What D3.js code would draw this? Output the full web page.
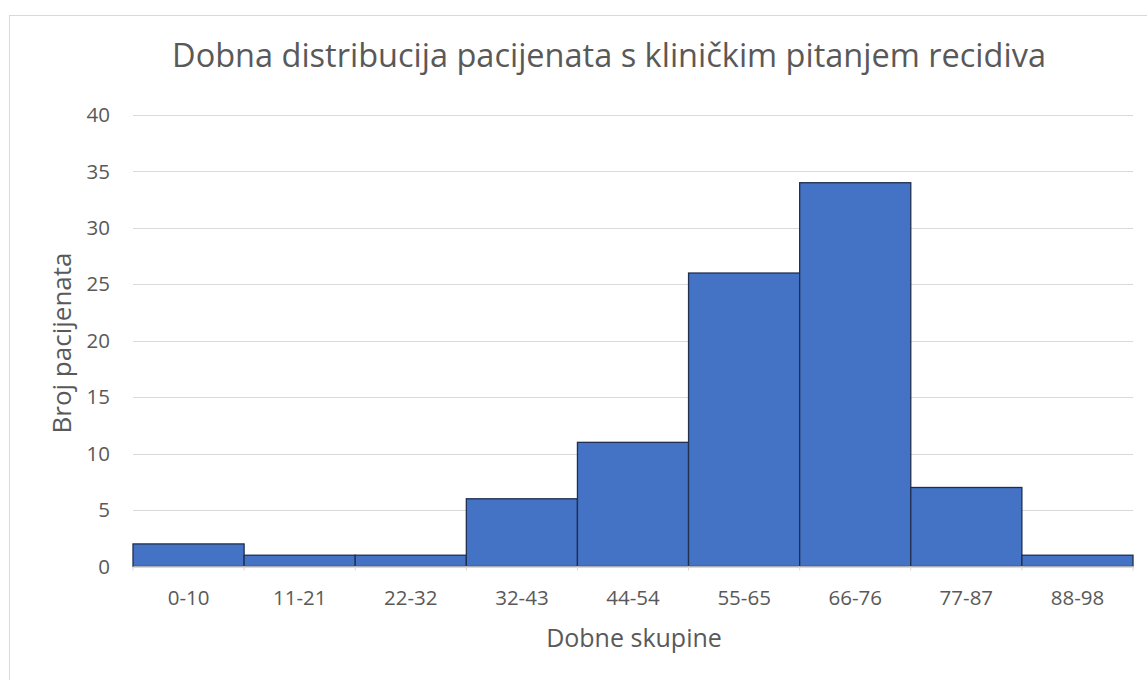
<!DOCTYPE html>
<html>
<head>
<meta charset="utf-8">
<script src="https://cdn.jsdelivr.net/npm/d3@7"></script>
<style>
  body { margin: 0; background: #fff; }
  text { font-family: "Open Sans", "Noto Sans", sans-serif; fill: #595959; }
</style>
</head>
<body>
<script>
// data
var categories = ["0-10", "11-21", "22-32", "32-43", "44-54", "55-65", "66-76", "77-87", "88-98"];
var counts = [2, 1, 1, 6, 11, 26, 34, 7, 1];
var yTicks = [0, 5, 10, 15, 20, 25, 30, 35, 40];

var svgWidth = 1147;
var svgHeight = 680;

var margin = {top: 115, right: 14, bottom: 113.5, left: 133};
var width = svgWidth - margin.left - margin.right;
var height = svgHeight - margin.top - margin.bottom;

var svg = d3.select("body")
  .append("svg")
  .attr("width", svgWidth)
  .attr("height", svgHeight);

// chart frame
svg.append("rect")
  .attr("x", 9.5)
  .attr("y", 15.5)
  .attr("width", 1150)
  .attr("height", 700)
  .attr("fill", "none")
  .attr("stroke", "#d9d9d9")
  .attr("stroke-width", 1);

var chartGroup = svg.append("g")
  .attr("transform", `translate(${margin.left}, ${margin.top})`);

// scales
var xScale = d3.scaleBand()
  .domain(categories)
  .range([0, width])
  .padding(0);

var yScale = d3.scaleLinear()
  .domain([0, 40])
  .range([height, 0]);

// gridlines
chartGroup.append("g")
  .selectAll("line")
  .data(yTicks.slice(1))
  .enter()
  .append("line")
  .attr("x1", 0)
  .attr("x2", width)
  .attr("y1", d => Math.round(yScale(d)) + 0.5)
  .attr("y2", d => Math.round(yScale(d)) + 0.5)
  .attr("stroke", "#d9d9d9")
  .attr("stroke-width", 1);

// y axis labels
var leftAxis = d3.axisLeft(yScale)
  .tickValues(yTicks)
  .tickSize(0)
  .tickPadding(23);

var yAxisG = chartGroup.append("g").call(leftAxis);
yAxisG.select(".domain").remove();
yAxisG.selectAll("text")
  .style("font-size", "20.5px")
  .attr("fill", "#595959");

// bars
chartGroup.selectAll("rect.bar")
  .data(counts)
  .enter()
  .append("rect")
  .attr("class", "bar")
  .attr("x", (d, i) => xScale(categories[i]))
  .attr("y", d => yScale(d))
  .attr("width", xScale.bandwidth())
  .attr("height", d => height - yScale(d))
  .attr("fill", "#4472c4")
  .attr("stroke", "#1f2f4f")
  .attr("stroke-width", 1.3);

// x axis
var bottomAxis = d3.axisBottom(xScale)
  .tickSize(0)
  .tickPadding(24);

var xAxisG = chartGroup.append("g")
  .attr("transform", `translate(0, ${height})`)
  .call(bottomAxis);
xAxisG.select(".domain")
  .attr("stroke", "#d9d9d9")
  .attr("stroke-width", 1.5);
xAxisG.selectAll("text")
  .style("font-size", "20.5px")
  .attr("fill", "#595959");

// small boundary ticks
xAxisG.selectAll("line.bound")
  .data(d3.range(categories.length + 1))
  .enter()
  .append("line")
  .attr("class", "bound")
  .attr("x1", i => i * xScale.step())
  .attr("x2", i => i * xScale.step())
  .attr("y1", 0)
  .attr("y2", 4)
  .attr("stroke", "#d9d9d9");

// title
svg.append("text")
  .attr("x", 609)
  .attr("y", 67)
  .attr("text-anchor", "middle")
  .style("font-size", "32.5px")
  .text("Dobna distribucija pacijenata s kliničkim pitanjem recidiva");

// axis titles
svg.append("text")
  .attr("transform", "rotate(-90)")
  .attr("x", -343)
  .attr("y", 71)
  .attr("text-anchor", "middle")
  .style("font-size", "26px")
  .text("Broj pacijenata");

svg.append("text")
  .attr("x", 634)
  .attr("y", 647)
  .attr("text-anchor", "middle")
  .style("font-size", "25px")
  .text("Dobne skupine");
</script>
</body>
</html>
